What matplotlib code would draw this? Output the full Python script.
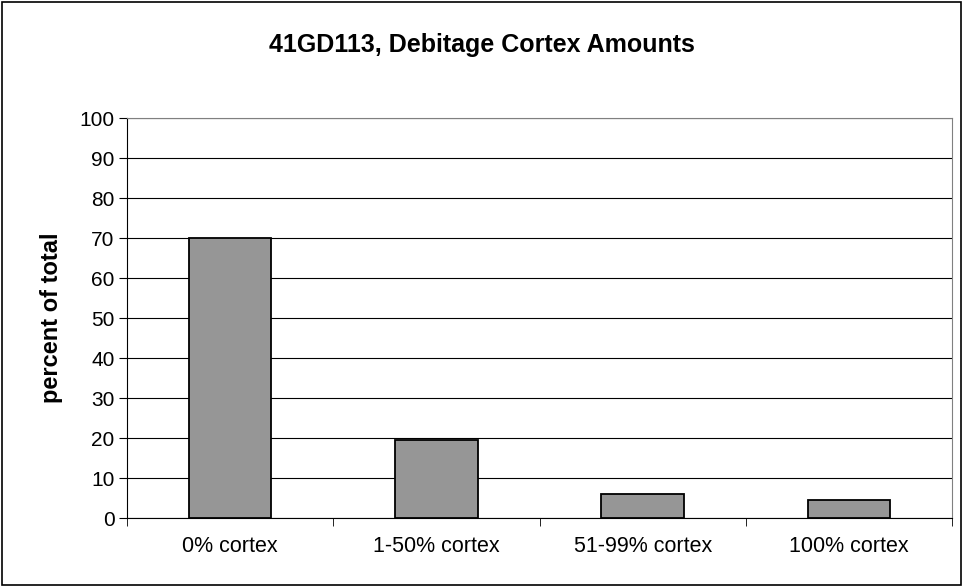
import matplotlib
matplotlib.use("Agg")
import matplotlib.pyplot as plt
from matplotlib.patches import Rectangle
import numpy as np

categories = ["0% cortex", "1-50% cortex", "51-99% cortex", "100% cortex"]
values = [70, 19.5, 6, 4.5]
yticks = list(range(0, 101, 10))

plt.rcParams['font.family'] = ['Liberation Sans', 'DejaVu Sans']

fig = plt.figure(figsize=(9.63, 5.87), dpi=100)
fig.patches.append(Rectangle((0.002, 0.003), 0.996, 0.994, transform=fig.transFigure,
                             fill=False, edgecolor='black', linewidth=1.2))
ax = fig.add_axes([127/963, 1 - 518/587, (952-127)/963, 400/587])

x = np.arange(len(categories))
ax.bar(x, values, width=0.4, color='#969696', edgecolor='black', linewidth=1.3, zorder=3)
ax.set_xlim(-0.5, len(categories) - 0.5)
ax.set_ylim(0, 100)
ax.set_yticks(yticks)
ax.set_yticklabels([str(t) for t in yticks], fontsize=15)
ax.yaxis.grid(True, color='black', linewidth=0.8, zorder=0)
ax.set_axisbelow(True)

ax.set_xticks(x)
ax.set_xticklabels(categories, fontsize=15.5)
ax.tick_params(axis='x', length=0, pad=13)
ax.set_xticks(np.arange(-0.5, len(categories), 1), minor=True)
ax.tick_params(axis='x', which='minor', length=6, direction='out', color='black')
ax.tick_params(axis='y', length=6, direction='out', pad=3)

for s in ['top', 'right']:
    ax.spines[s].set_color('#808080')
for s in ['left', 'bottom']:
    ax.spines[s].set_color('black')

ax.set_ylabel('percent of total', fontsize=17, fontweight='bold', labelpad=10)
ax.yaxis.set_label_coords(-(127-63)/825, 0.5)
fig.text(0.5, 1 - 45/587, '41GD113, Debitage Cortex Amounts', ha='center', va='center',
         fontsize=18, fontweight='bold')

fig.savefig('out.png', dpi=100)
